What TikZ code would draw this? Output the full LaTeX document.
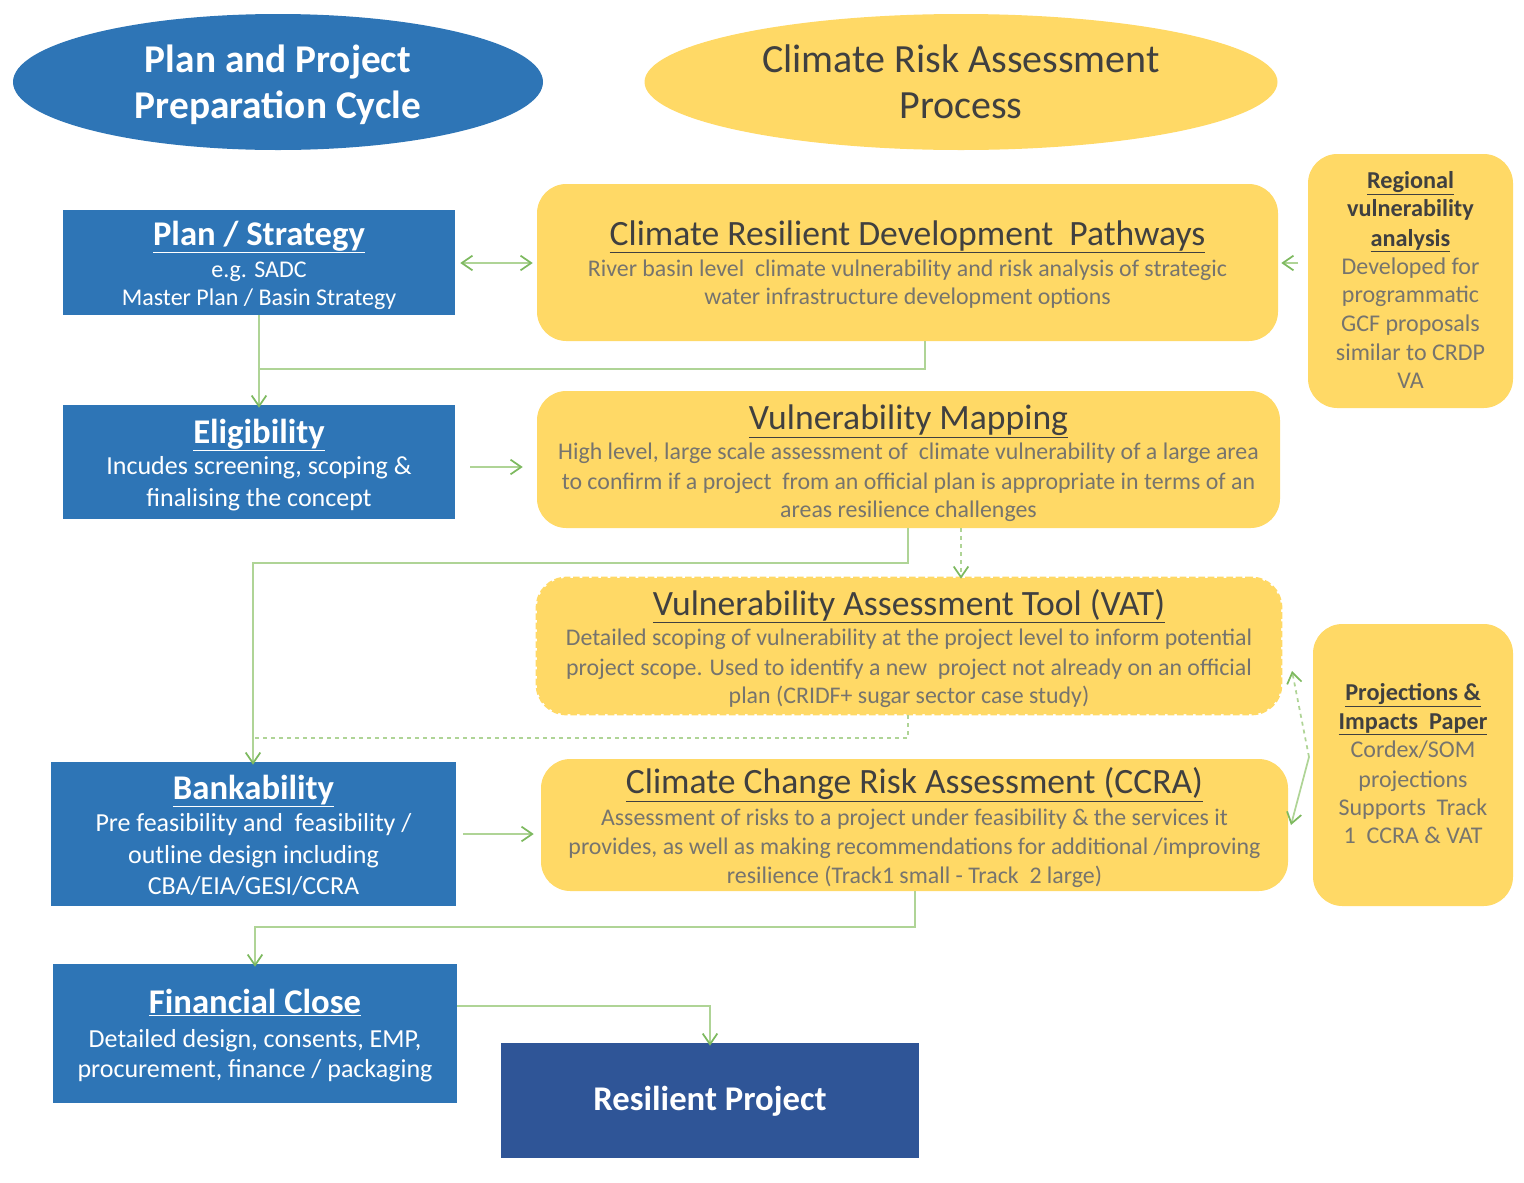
\documentclass[tikz,border=0pt]{standalone}
\usepackage{fontspec}
\setmainfont{Carlito}
\usetikzlibrary{arrows.meta,shapes.geometric}
\definecolor{pblue}{RGB}{46,117,182}
\definecolor{dblue}{RGB}{47,85,151}
\definecolor{pyel}{RGB}{255,217,102}
\definecolor{dgray}{RGB}{64,64,64}
\definecolor{bgray}{RGB}{118,116,110}
\definecolor{lgreen}{RGB}{175,212,150}
\definecolor{agreen}{RGB}{125,185,95}
\tikzset{
  yelbox/.style={fill=pyel,rounded corners=22,inner sep=0pt},
  tx/.style={anchor=base,inner sep=0pt,align=center},
  btitle/.style={tx,text=white,font=\fontsize{26}{30}\selectfont\bfseries},
  bbody/.style={tx,text=white,font=\fontsize{19.5}{23}\selectfont},
  ytitle/.style={tx,text=dgray,font=\fontsize{26.7}{30}\selectfont},
  ybody/.style={tx,text=bgray,font=\fontsize{17.9}{21}\selectfont},
  rtitle/.style={tx,text=dgray,font=\fontsize{18.2}{22}\selectfont\bfseries},
  rbody/.style={tx,text=bgray,font=\fontsize{18}{22}\selectfont},
  conn/.style={draw=lgreen,line width=1.3pt,-{Straight Barb[length=8pt,width=11pt,color=agreen]}},
  link/.style={draw=lgreen,line width=1.3pt},
}
\begin{document}
\begin{tikzpicture}[x=0.75pt,y=-0.75pt]
\useasboundingbox (0,0) rectangle (1524,1182);
% ellipses
\node[ellipse,fill=pblue,minimum width=530*0.75pt,minimum height=136*0.75pt,inner sep=0pt] (e1) at (278,82) {};
\node[tx,text=white,font=\fontsize{29.5}{34}\selectfont\bfseries] (e1a) at (278,72) {Plan and Project};
\node[tx,text=white,font=\fontsize{29.5}{34}\selectfont\bfseries] (e1b) at (278,118) {Preparation Cycle};
\node[ellipse,fill=pyel,minimum width=633*0.75pt,minimum height=136*0.75pt,inner sep=0pt] (e2) at (961,82) {};
\node[tx,text=dgray,font=\fontsize{30}{34}\selectfont] (e2a) at (961,72) {Climate Risk Assessment};
\node[tx,text=dgray,font=\fontsize{30}{34}\selectfont] (e2b) at (961,118) {Process};

% blue boxes
\node[fill=pblue,minimum width=392*0.75pt,minimum height=105*0.75pt,inner sep=0pt] (pl) at (259,262.5) {};
\node[btitle] (pl1) at (259,245) {\underline{Plan / Strategy}};
\node[bbody,font=\fontsize{18}{22}\selectfont] (pl2) at (259,277) {e.g. SADC};
\node[bbody,font=\fontsize{18}{22}\selectfont] (pl3) at (259,305) {Master Plan / Basin Strategy};

\node[fill=pblue,minimum width=392*0.75pt,minimum height=114*0.75pt,inner sep=0pt] (el) at (259,462) {};
\node[btitle] (el1) at (259,443) {\underline{Eligibility}};
\node[bbody] (el2) at (259,474) {Incudes screening, scoping \&};
\node[bbody] (el3) at (259,506) {finalising the concept};

\node[fill=pblue,minimum width=405*0.75pt,minimum height=144*0.75pt,inner sep=0pt] (ba) at (253.5,834) {};
\node[btitle] (ba1) at (253.5,799) {\underline{Bankability}};
\node[bbody] (ba2) at (253.5,831) {Pre feasibility and\ \ feasibility /};
\node[bbody] (ba3) at (253.5,863) {outline design including};
\node[bbody] (ba4) at (253.5,894) {CBA/EIA/GESI/CCRA};

\node[fill=pblue,minimum width=404*0.75pt,minimum height=139*0.75pt,inner sep=0pt] (fc) at (255,1033.5) {};
\node[btitle] (fc1) at (255,1013) {\underline{Financial Close}};
\node[bbody] (fc2) at (255,1047) {Detailed design, consents, EMP,};
\node[bbody] (fc3) at (255,1077) {procurement, finance / packaging};

\node[fill=dblue,minimum width=418*0.75pt,minimum height=115*0.75pt,inner sep=0pt] (rp) at (710,1100.5) {};
\node[tx,text=white,font=\fontsize{26}{30}\selectfont\bfseries] (rp1) at (710,1110) {Resilient Project};

% yellow boxes
\node[yelbox,minimum width=741*0.75pt,minimum height=157*0.75pt] (cr) at (907.5,262.5) {};
\node[ytitle] (cr1) at (907.5,245) {\underline{Climate Resilient Development\ \ Pathways}};
\node[ybody] (cr2) at (907.5,276) {River basin level\ \ climate vulnerability and risk analysis of strategic};
\node[ybody] (cr3) at (907.5,304) {water infrastructure development options};

\node[yelbox,minimum width=205*0.75pt,minimum height=254*0.75pt] (rv) at (1410.5,281) {};
\node[rtitle] (rv1) at (1410.5,188) {\underline{Regional}};
\node[rtitle] (rv2) at (1410.5,216) {vulnerability};
\node[rtitle] (rv3) at (1410.5,246) {\underline{analysis}};
\node[rbody] (rv4) at (1410.5,274) {Developed for};
\node[rbody] (rv5) at (1410.5,302) {programmatic};
\node[rbody] (rv6) at (1410.5,331) {GCF proposals};
\node[rbody] (rv7) at (1410.5,360) {similar to CRDP};
\node[rbody] (rv8) at (1410.5,388) {VA};

\node[yelbox,minimum width=743*0.75pt,minimum height=137*0.75pt] (vm) at (908.5,459.5) {};
\node[ytitle] (vm1) at (908.5,429) {\underline{Vulnerability Mapping}};
\node[ybody] (vm2) at (908.5,459) {High level, large scale assessment of\ \ climate vulnerability of a large area};
\node[ybody] (vm3) at (908.5,489) {to confirm if a project\ \ from an official plan is appropriate in terms of an};
\node[ybody] (vm4) at (908.5,517) {areas resilience challenges};

\node[yelbox,draw=pyel,dashed,line width=2pt,dash pattern=on 5pt off 2pt,minimum width=744*0.75pt,minimum height=136*0.75pt] (vat) at (909,646) {};
\node[ytitle] (vat1) at (909,615) {\underline{Vulnerability Assessment\ Tool (VAT)}};
\node[ybody] (vat2) at (909,645) {Detailed scoping of vulnerability at the project level to inform potential};
\node[ybody] (vat3) at (909,675) {project scope. Used to identify a new\ \ project not already on an official};
\node[ybody] (vat4) at (909,703) {plan (CRIDF+ sugar sector case study)};

\node[yelbox,minimum width=200*0.75pt,minimum height=282*0.75pt] (pi) at (1413,765) {};
\node[rtitle] (pi1) at (1413,700) {\underline{Projections \&}};
\node[rtitle] (pi2) at (1413,729) {\underline{Impacts\ \ Paper}};
\node[rbody] (pi3) at (1413,757) {Cordex/SOM};
\node[rbody] (pi4) at (1413,787) {projections};
\node[rbody] (pi5) at (1413,815) {Supports\ \ Track};
\node[rbody] (pi6) at (1413,843) {1\ \ CCRA \& VAT};

\node[yelbox,minimum width=747*0.75pt,minimum height=132*0.75pt] (cc) at (914.5,825) {};
\node[ytitle] (cc1) at (914.5,793) {\underline{Climate Change Risk Assessment (CCRA)}};
\node[ybody] (cc2) at (914.5,825) {Assessment of risks to a project under feasibility \& the services it};
\node[ybody] (cc3) at (914.5,854) {provides, as well as making recommendations for additional /improving};
\node[ybody] (cc4) at (914.5,883) {resilience (Track1 small - Track\ \ 2 large)};

% connectors
\draw[conn,{Straight Barb[length=8pt,width=11pt,color=agreen]}-{Straight Barb[length=8pt,width=11pt,color=agreen]}] ([xshift=5*0.75pt]pl.east |- 0,263) -- ([xshift=-4*0.75pt]cr.west |- 0,263);
\draw[conn] ([xshift=20*0.75pt]cr.east |- 0,263) -- ([xshift=3*0.75pt]cr.east |- 0,263);
\draw[conn] (pl.south) -- ([yshift=-3*0.75pt]el.north);
\draw[link] (cr.south -| 925,0) -- (925,369) -- (259,369);
\draw[conn] ([xshift=15*0.75pt]el.east |- 0,467) -- ([xshift=-14*0.75pt]vm.west |- 0,467);
\draw[conn] (vm.south -| 908,0) -- (908,563) -- (253,563) -- ([yshift=-3*0.75pt]ba.north -| 253,0);
\draw[conn,dashed] (vm.south -| 961,0) -- ([yshift=-2*0.75pt]vat.north -| 961,0);
\draw[link,dashed] (vat.south -| 908,0) -- (908,738) -- (253,738);
\draw[conn] ([xshift=7*0.75pt]ba.east |- 0,834) -- ([xshift=-7*0.75pt]cc.west |- 0,834);
\coordinate (mid) at (1309,757);
\draw[conn,dashed] (mid) -- (1292,671);
\draw[conn] (mid) -- (1291,825);
\draw[conn] (cc.south -| 915,0) -- (915,927) -- (255,927) -- ([yshift=-3*0.75pt]fc.north);
\draw[conn] (fc.east |- 0,1006) -- (710,1006) -- ([yshift=-3*0.75pt]rp.north);
\end{tikzpicture}
\end{document}
